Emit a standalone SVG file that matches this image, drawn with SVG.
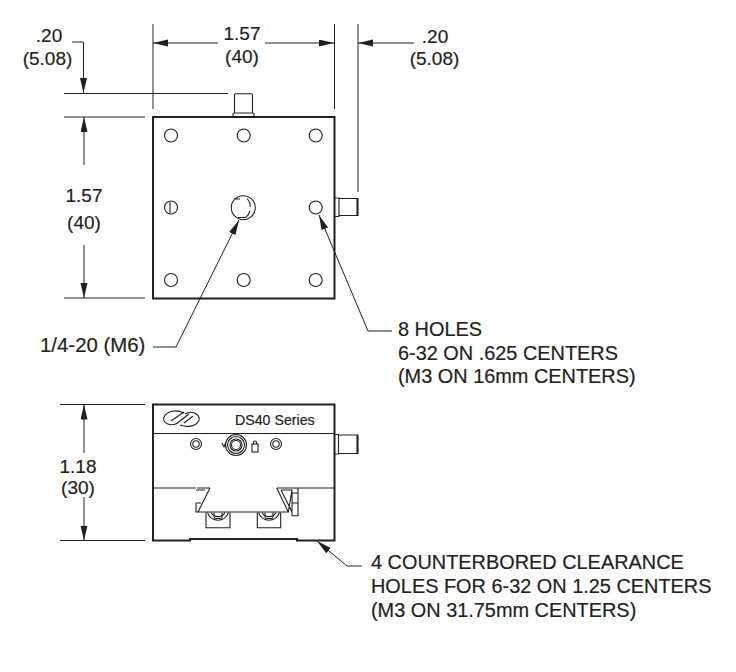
<svg xmlns="http://www.w3.org/2000/svg" width="736" height="672" viewBox="0 0 736 672">
<style>
text{font-family:"Liberation Sans",Arial,sans-serif;font-size:19px;fill:#231f20;stroke:#231f20;stroke-width:.2}
.m{text-anchor:middle}
.l{font-size:19.900px}
.d{fill:none;stroke:#231f20;stroke-width:1}
.o{fill:none;stroke:#231f20;stroke-width:2}
.t{fill:none;stroke:#231f20;stroke-width:1.1}
.h{fill:#fff;stroke:#231f20;stroke-width:1.1}
</style>
<defs>
<marker id="a" markerUnits="userSpaceOnUse" markerWidth="16" markerHeight="8" refX="15" refY="3.500" orient="auto"><path d="M0 0L15 3.500L0 7Z" fill="#231f20"/></marker>
</defs>
<rect width="736" height="672" fill="#fff"/>
<g id="connectors">
<path class="d" d="M153 24V109M334.500 24V109M358 24V192"/>
<path class="d" d="M218 43H153" marker-end="url(#a)"/>
<path class="d" d="M265 43H334" marker-end="url(#a)"/>
<path class="d" d="M414 43H358" marker-end="url(#a)"/>
<path class="d" d="M72 42H83.500V93" marker-end="url(#a)"/>
<path class="d" d="M64 93.500H228M64 117H145M64 298H145M60 404.500H145M60 540.500H145"/>
<path class="d" d="M84 165V117" marker-end="url(#a)"/>
<path class="d" d="M84 245V298" marker-end="url(#a)"/>
<path class="d" d="M84 453V404.500" marker-end="url(#a)"/>
<path class="d" d="M84 497V540.500" marker-end="url(#a)"/>
<path class="d" d="M153 347H176L239 220" marker-end="url(#a)"/>
<path class="d" d="M392 331H368L319 215" marker-end="url(#a)"/>
<path class="d" d="M362 566H347L317 541" marker-end="url(#a)"/>
</g>
<g id="top-view">
<path class="t" d="M234.500 113V95Q234.500 93.700 236 93.700H251Q252.500 93.700 252.500 95V113M233.500 113H253.500M233 113V117M254 113V117"/>
<path class="t" d="M334.500 198H339V216.500H334.500M339 198.500H358V215.500H339M357 199V215"/>
<rect class="o" x="153" y="117" width="181.500" height="181.500" fill="#fff"/>
<g class="holes">
<circle class="h" cx="171" cy="135.500" r="6.500"/><circle class="h" cx="243.700" cy="135.500" r="6.500"/><circle class="h" cx="315.700" cy="135.500" r="6.500"/>
<circle class="h" cx="171" cy="207.500" r="6.500"/><circle class="h" cx="315.700" cy="207.500" r="6.500"/>
<circle class="h" cx="171" cy="280" r="6.500"/><circle class="h" cx="243.700" cy="280" r="6.500"/><circle class="h" cx="315.700" cy="280" r="6.500"/>
</g>
<path class="t" d="M170 202V213"/>
<circle class="h" cx="243.300" cy="207.700" r="12"/>
<path class="t" d="M247 198.500Q251 203 250 207M250 211Q249 215 246 217M234 199H240M238 217.500H246"/>
</g>
<g id="front-view">
<path class="t" d="M334.500 434.500H338.500V454H334.500M338.500 435H358V453.500H338.500M357 435.500V453"/>
<path class="o" d="M153 404.500H334.500V540.500H297V539H190V540.500H153Z" fill="#fff"/>
<path class="t" d="M153 433.500H334.500M153 488H196M210 488H197M277 488H334.500"/>
<path class="t" d="M184 413C176 409 167 411 164 417C162 423 170 427 178 423M180 425C188 428 197 426 199 420C200 414 192 410 185 414M171 421L184 412M176 424L189 414M184 423L193 416"/>
<text x="235" y="424.500" style="font-size:14.200px">DS40 Series</text>
<circle class="h" cx="196" cy="444" r="5.500"/><circle class="t" cx="196" cy="444" r="3.200"/>
<circle class="h" cx="276" cy="444" r="5.500"/><circle class="t" cx="276" cy="444" r="3.200"/>
<circle class="h" cx="236" cy="445" r="10.500"/><circle class="t" cx="236" cy="445" r="8.500"/><circle class="t" cx="236" cy="445" r="6"/><circle class="t" cx="236" cy="445" r="4.500"/>
<path class="t" d="M222 443L224 447L225.500 443"/>
<rect class="t" x="252" y="444" width="6" height="8"/><path class="t" d="M253.500 444V442.500A1.500 1.500 0 0 1 256.500 442.500V444"/>
<path class="t" d="M196 490H205M210 488L198 512H288.300L276.700 488M196 503V512H198M196 503L201 503M281 490H292L288.300 512M281 490L292 512M292 490V515.700H298V488M292 493H298V503H292"/>
<path class="t" d="M206 512.500V527.700H230V512.500M257.300 512.500V527.700H280.700V512.500M214 512.500V517Q214 518.500 216 518.500H220Q222 518.500 222 517V512.500M265 512.500V517Q265 518.500 267 518.500H271Q273 518.500 273 517V512.500"/>
<path class="t" d="M207.500 512.500A11 11 0 0 0 228.500 512.500M211 512.500A8 8 0 0 0 225 512.500M258.500 512.500A11 11 0 0 0 279.500 512.500M262 512.500A8 8 0 0 0 276 512.500"/>
</g>
<g id="labels">
<text class="m" x="49" y="42">.20</text><text class="m" x="47.500" y="65">(5.08)</text>
<text class="m" x="242" y="40">1.57</text><text class="m" x="242" y="63">(40)</text>
<text class="m" x="435" y="43">.20</text><text class="m" x="434.500" y="65">(5.08)</text>
<text class="m" x="84" y="202">1.57</text><text class="m" x="84" y="229">(40)</text>
<text class="l" x="40" y="352" style="font-size:20.400px">1/4-20 (M6)</text>
<text class="l" x="398" y="336">8 HOLES</text>
<text class="l" x="398" y="360">6-32 ON .625 CENTERS</text>
<text class="l" x="398" y="383">(M3 ON 16mm CENTERS)</text>
<text class="m" x="78" y="473">1.18</text><text class="m" x="78" y="494">(30)</text>
<text class="l" x="371" y="569">4 COUNTERBORED CLEARANCE</text>
<text class="l" x="371" y="593">HOLES FOR 6-32 ON 1.25 CENTERS</text>
<text class="l" x="371" y="617">(M3 ON 31.75mm CENTERS)</text>
</g>
</svg>
